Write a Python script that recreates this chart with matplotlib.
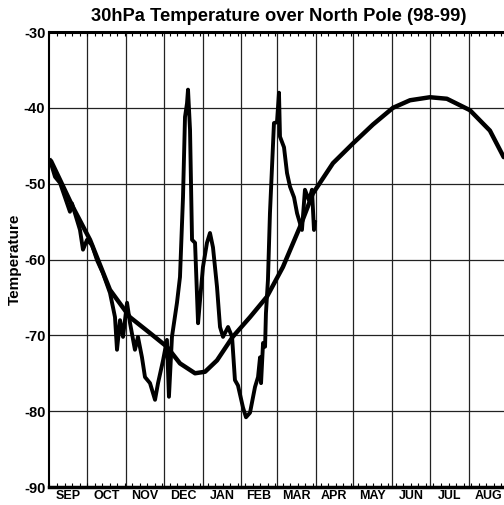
import matplotlib
matplotlib.use("Agg")
import matplotlib.pyplot as plt
import numpy as np

plt.rcParams["font.family"] = ["Liberation Sans", "DejaVu Sans"]
plt.rcParams["font.weight"] = "bold"

MONTHS = ["SEP", "OCT", "NOV", "DEC", "JAN", "FEB", "MAR", "APR", "MAY", "JUN", "JUL", "AUG"]
MONTH_DAYS = [30, 31, 30, 31, 31, 28, 31, 30, 31, 30, 31, 31]

# climatology (days since 1 Sep, deg C)
clim_day = [1.2, 8.4, 18.7, 32.3, 48.2, 64.1, 80.1, 93.6, 104, 116, 124, 133.5, 146,
            159.8, 173.3, 186, 199.6, 209.9, 225.9, 241.8, 257.8, 273.7, 287.3,
            303.2, 316.7, 335, 351, 362]
clim_temp = [-47.0, -49.5, -53.1, -57.4, -64.0, -67.6, -69.7, -71.5, -73.7, -75.0,
             -74.8, -73.3, -70.2, -67.6, -64.9, -61.0, -55.7, -51.3, -47.3, -44.7,
             -42.2, -40.0, -39.0, -38.6, -38.8, -40.3, -43.0, -46.5]

# 1998-99 daily values
obs_day = [0.4, 4.4, 8.4, 16.3, 17.9, 24.3, 26.7, 29.9, 33.9, 37.9, 42.6, 48.2, 50.6,
           52.2, 53.8, 56.2, 58.6, 61.8, 64.2, 68.1, 70.5, 73.7, 76.1, 80.1, 84.1,
           86.5, 90.5, 93.6, 95.2, 97.6, 101.6, 104.0, 106.4, 108.0, 109.6, 110.4,
           112.0, 113.6, 116.0, 118.4, 120.0, 122.3, 125.5, 127.9, 130.3, 133.5,
           135.9, 138.3, 142.3, 145.5, 147.8, 150.2, 154.2, 156.6, 159.8, 163.8,
           166.2, 167.8, 168.6, 170.2, 171.8, 172.5, 174.1, 175.7, 178.9, 181.3,
           182.9, 183.7, 186.9, 189.3, 191.7, 194.9, 197.3, 201.2, 203.6, 206.8,
           209.2, 210.8, 211.6]
obs_temp = [-46.9, -49.1, -49.9, -53.7, -52.6, -56.1, -58.7, -57.4, -58.1, -60.1,
            -61.8, -64.4, -66.3, -67.6, -71.9, -68.0, -70.2, -65.7, -68.4, -71.9,
            -70.2, -72.9, -75.5, -76.3, -78.5, -76.3, -73.3, -70.6, -78.1, -70.2,
            -65.7, -62.3, -51.8, -41.2, -39.4, -37.6, -42.9, -57.4, -57.8, -68.4,
            -65.3, -61.0, -57.8, -56.5, -58.4, -63.6, -68.9, -70.2, -68.9, -70.2,
            -75.9, -76.6, -79.5, -80.8, -80.2, -76.8, -75.5, -72.9, -76.3, -71.0,
            -71.5, -67.1, -62.7, -53.9, -42.0, -41.9, -38.0, -43.8, -45.2, -48.6,
            -50.4, -51.8, -53.9, -56.1, -50.8, -52.2, -50.8, -56.1, -55.1]

edges = np.concatenate([[0], np.cumsum(MONTH_DAYS)])
mids = (edges[:-1] + edges[1:]) / 2

fig = plt.figure(figsize=(5.04, 5.05), dpi=100)
ax = fig.add_axes([0.0982, 0.0356, 0.9087, 0.901])

ax.set_xlim(0, 365)
ax.set_ylim(-90, -30)

# month boundaries and 10-degree lines
for e in edges[1:-1]:
    ax.axvline(e, color="#222222", lw=0.9, zorder=1)
for t in range(-80, -30, 10):
    ax.axhline(t, color="#222222", lw=0.9, zorder=1)

ax.plot(clim_day, clim_temp, color="black", lw=3.2, solid_capstyle="round",
        solid_joinstyle="round", zorder=3)
ax.plot(obs_day, obs_temp, color="black", lw=2.8, solid_joinstyle="round", zorder=3)

ax.set_yticks(range(-90, -29, 10))
ax.set_yticklabels([str(t) for t in range(-90, -29, 10)], fontsize=10.5, fontweight="bold")
ax.tick_params(axis="y", length=0, pad=3)

ax.xaxis.remove_overlapping_locs = False
ax.set_xticks(np.arange(0, 366, 6))
ax.set_xticklabels([])
ax.tick_params(axis="x", which="major", direction="in", length=3, width=0.8,
               top=True, bottom=True)
ax.set_xticks(mids, minor=True)
ax.set_xticklabels(MONTHS, minor=True, fontsize=9, fontweight="bold")
ax.tick_params(axis="x", which="minor", length=0, pad=2)

ax.spines["left"].set_linewidth(1.5)
ax.spines["bottom"].set_linewidth(2.5)
ax.spines["top"].set_linewidth(2.2)
ax.spines["right"].set_linewidth(1.5)

ax.set_ylabel("Temperature", fontsize=11, fontweight="bold", labelpad=1.5)
fig.text(0.553, 0.968, "30hPa Temperature over North Pole (98-99)", ha="center",
         va="center", fontsize=13.2, fontweight="bold")

fig.savefig("out.png", dpi=100)
